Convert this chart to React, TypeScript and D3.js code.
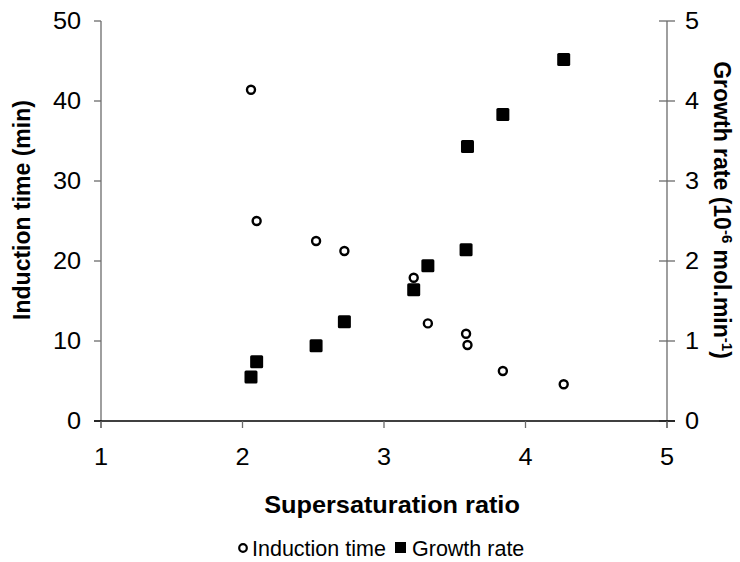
import React from "react";
import * as d3 from "d3";

const ratio = [2.06, 2.10, 2.52, 2.72, 3.21, 3.31, 3.58, 3.59, 3.84, 4.27];
const inductionTime = [41.4, 25.0, 22.5, 21.25, 17.9, 12.2, 10.9, 9.5, 6.25, 4.6];
const ratioGrowth = [2.06, 2.10, 2.52, 2.72, 3.21, 3.31, 3.58, 3.59, 3.84, 4.27];
const growthRate = [0.55, 0.74, 0.94, 1.24, 1.64, 1.94, 2.14, 3.43, 3.83, 4.52];
const xTicks = [1, 2, 3, 4, 5];
const yLeftTicks = [0, 10, 20, 30, 40, 50];
const yRightTicks = [0, 1, 2, 3, 4, 5];

const FONT = "'Liberation Sans', Arial, sans-serif";
const SX = 1.1;

function HText(props: { x: number; y: number; anchor?: string; size: number; bold?: boolean; dy?: string; sx?: number; children: React.ReactNode }) {
  const { x, y, anchor = "start", size, bold, dy, sx = SX, children } = props;
  return (
    <text
      transform={`translate(${x},${y}) scale(${sx},1)`}
      dy={dy}
      textAnchor={anchor}
      fontSize={size}
      fontWeight={bold ? "bold" : "normal"}
      fill="#000"
    >
      {children}
    </text>
  );
}

export default function App() {
  const W = 740, H = 562;
  const x = d3.scaleLinear().domain([1, 5]).range([101, 667]);
  const yL = d3.scaleLinear().domain([0, 50]).range([421, 21]);
  const yR = d3.scaleLinear().domain([0, 5]).range([421, 21]);
  const axisCol = "#6b6b6b";
  const fs = 23;
  const sq = 13;

  return (
    <svg width={W} height={H} style={{ position: "absolute", left: 0, top: 0, background: "#fff" }} fontFamily={FONT}>
      <rect width={W} height={H} fill="#fff" />
      {/* left axis */}
      <line x1={x(1)} x2={x(1)} y1={yL(50)} y2={yL(0) + 7} stroke={axisCol} strokeWidth={1.3} />
      {yLeftTicks.map((t) => (
        <g key={"l" + t}>
          <line x1={x(1) - 7} x2={x(1)} y1={yL(t)} y2={yL(t)} stroke={axisCol} strokeWidth={1.3} />
          <HText x={81} y={yL(t)} dy="0.36em" anchor="end" size={fs}>{t}</HText>
        </g>
      ))}
      {/* right axis */}
      <line x1={x(5)} x2={x(5)} y1={yR(5)} y2={yR(0) + 7} stroke={axisCol} strokeWidth={1.3} />
      {yRightTicks.map((t) => (
        <g key={"r" + t}>
          <line x1={x(5) - 8} x2={x(5) + 8} y1={yR(t)} y2={yR(t)} stroke={axisCol} strokeWidth={1.3} />
          <HText x={685} y={yR(t)} dy="0.36em" anchor="start" size={fs}>{t}</HText>
        </g>
      ))}
      {/* x axis */}
      <line x1={x(1) - 7} x2={x(5) + 8} y1={yL(0)} y2={yL(0)} stroke="#000" strokeWidth={1.5} />
      {xTicks.map((t) => (
        <g key={"x" + t}>
          <line x1={x(t)} x2={x(t)} y1={yL(0)} y2={yL(0) + 7} stroke={axisCol} strokeWidth={1.3} />
          <HText x={x(t)} y={465} anchor="middle" size={fs}>{t}</HText>
        </g>
      ))}
      {/* titles */}
      <text transform={`translate(30,210) rotate(-90)`} textAnchor="middle" fontSize={fs} fontWeight="bold">Induction time (min)</text>
      <text transform={`translate(714,210) rotate(90)`} textAnchor="middle" fontSize={fs} fontWeight="bold">
        Growth rate (10<tspan fontSize={15} dy={-8}>-6</tspan><tspan dy={8}> mol.min</tspan><tspan fontSize={15} dy={-8}>-1</tspan><tspan dy={8}>)</tspan>
      </text>
      <HText x={392} y={513} anchor="middle" size={fs} bold>Supersaturation ratio</HText>
      {/* data */}
      {ratio.map((r, i) => (
        <circle key={"c" + i} cx={x(r)} cy={yL(inductionTime[i])} r={4} fill="#fff" stroke="#000" strokeWidth={2.4} />
      ))}
      {ratioGrowth.map((r, i) => (
        <rect key={"s" + i} x={x(r) - sq / 2} y={yR(growthRate[i]) - sq / 2} width={sq} height={sq} rx={1.5} fill="#000" />
      ))}
      {/* legend */}
      <circle cx={243} cy={548} r={3.8} fill="#fff" stroke="#000" strokeWidth={2.2} />
      <HText x={252} y={556} size={21.5} sx={1}>Induction time</HText>
      <rect x={395} y={542} width={11} height={11} fill="#000" />
      <HText x={412} y={556} size={21.5} sx={1}>Growth rate</HText>
    </svg>
  );
}
